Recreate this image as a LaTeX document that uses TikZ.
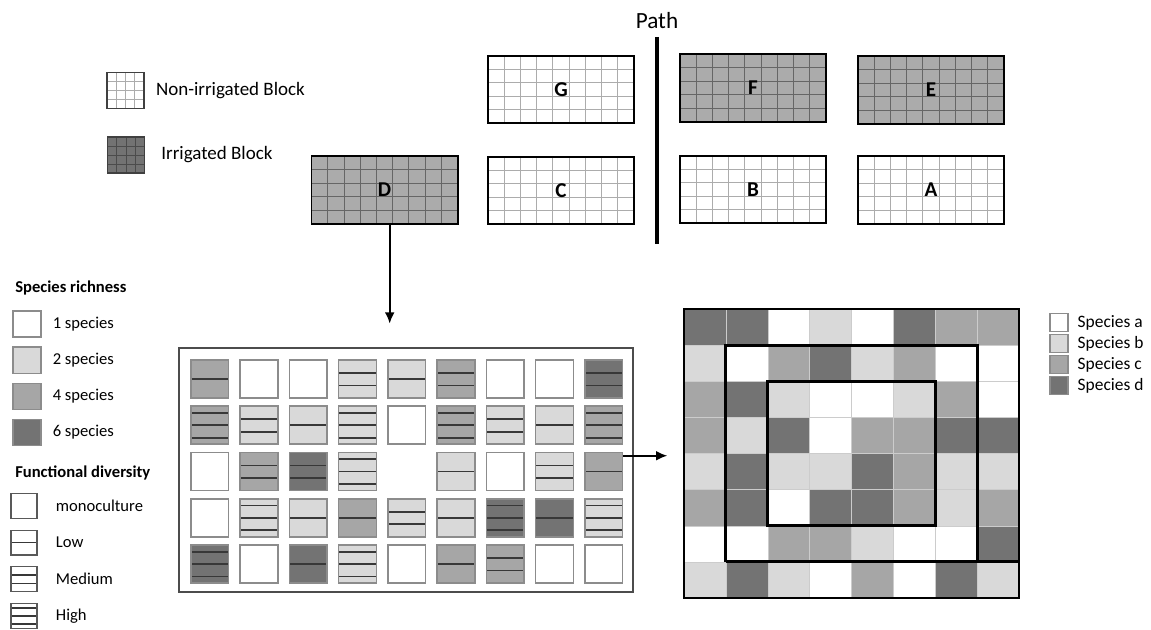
\documentclass[tikz,border=0pt]{standalone}
\usepackage{fontspec}
\setmainfont{Carlito}
\usetikzlibrary{calc}
\usetikzlibrary{positioning}
\usetikzlibrary{arrows.meta}

\definecolor{spa}{HTML}{FFFFFF}
\definecolor{spb}{HTML}{D9D9D9}
\definecolor{spc}{HTML}{A6A6A6}
\definecolor{spd}{HTML}{737373}
\colorlet{rich1}{spa}
\colorlet{rich2}{spb}
\colorlet{rich4}{spc}
\colorlet{rich6}{spd}
\definecolor{blockgray}{HTML}{ABABAB}
\definecolor{edgegray}{HTML}{8C8C8C}
\definecolor{fdgray}{HTML}{383838}

\tikzset{
  gridded/.style n args={3}{%
    path picture={
      \foreach \k in {1,...,#1}
        \draw[#3, line width=0.6pt]
          ($(path picture bounding box.south west)!\k/#1!(path picture bounding box.south east)$) --
          ($(path picture bounding box.north west)!\k/#1!(path picture bounding box.north east)$);
      \foreach \k in {1,...,#2}
        \draw[#3, line width=0.6pt]
          ($(path picture bounding box.south west)!\k/#2!(path picture bounding box.north west)$) --
          ($(path picture bounding box.south east)!\k/#2!(path picture bounding box.north east)$);
    }
  },
  blockNode/.style={draw, line width=1.4pt, minimum width=3.65cm, minimum height=1.68cm,
    inner sep=0pt, outer sep=0pt, font=\fontsize{15}{17}\selectfont\bfseries},
  dryBlock/.style={blockNode, fill=white, gridded={9}{5}{gray!65}},
  wetBlock/.style={blockNode, fill=blockgray, gridded={9}{5}{black!60}},
  keyBlock/.style={draw=black!75, line width=1pt, minimum width=0.92cm, minimum height=0.9cm, inner sep=0pt},
  keyText/.style={inner sep=0pt, font=\fontsize{13.5}{16}\selectfont},
  smallText/.style={inner sep=0pt, font=\fontsize{11.8}{14}\selectfont},
  titleText/.style={smallText, font=\fontsize{11.8}{14}\selectfont\bfseries},
  fdline/.style={draw=fdgray, line width=1.2pt},
  fdLines/.style={path picture={
      \foreach \q in {#1}
        \draw[fdline] ($(path picture bounding box.north west)!\q!(path picture bounding box.south west)$) --
          ($(path picture bounding box.north east)!\q!(path picture bounding box.south east)$);
    }},
  fdmono/.style={},
  fdlow/.style={fdLines={0.5}},
  fdmed/.style={fdLines={0.34,0.67}},
  fdhigh/.style={fdLines={0.18,0.5,0.83}},
  plotSq/.style={draw=edgegray, line width=1.1pt, minimum width=0.94cm, minimum height=0.95cm, inner sep=0pt},
  richSq/.style={draw=edgegray, line width=1pt, minimum width=0.7cm, minimum height=0.65cm, inner sep=0pt},
  fdSq/.style={draw=black!65, line width=0.9pt, fill=white, minimum width=0.65cm, minimum height=0.62cm, inner sep=0pt},
  spSq/.style={draw=edgegray, line width=0.9pt, minimum width=0.45cm, minimum height=0.45cm, inner sep=0pt},
  frame/.style={line width=2pt},
  arr/.style={-{Latex[length=8pt,width=7pt]}, line width=1.4pt},
}

\begin{document}
\begin{tikzpicture}[x=0.025cm,y=-0.025cm]
  \useasboundingbox (0,0) rectangle (1151,630);

  % block legend
  \node[keyBlock, fill=white, gridded={4}{4}{gray!65}] (keydry) at (125.5,90.5) {};
  \node[keyBlock, fill=spd, gridded={4}{4}{black!70}] (keywet) at (126,155) {};
  \node[keyText, right=0.28cm of keydry] {Non-irrigated Block};
  \node[keyText, right=0.4cm of keywet] {Irrigated Block};

  % experimental blocks
  \node[dryBlock] (G) at (561,89.5) {G};
  \node[dryBlock] (C) at (561,190.5) {C};
  \node[wetBlock] (D) at (384.5,190) {D};
  \node[wetBlock] (F) at (753,88) {F};
  \node[wetBlock] (E) at (931,90) {E};
  \node[dryBlock] (B) at (753,189.5) {B};
  \node[dryBlock] (A) at (931,190) {A};

  % path between the blocks
  \node[font=\fontsize{16.5}{18}\selectfont, inner sep=0pt] (pathlabel) at (657,21) {Path};
  \coordinate (pathtop) at (657,37);
  \coordinate (pathend) at (657,244);
  \draw[line width=2.2pt] (pathtop) -- (pathend);

  \draw[arr] ([xshift=0.13cm]D.south) -- ++(0,100);

  % plots of block D
  \node[draw=black!70, line width=1pt, minimum width=11.35cm, minimum height=6.1cm, inner sep=0pt] (plots) at (406,470) {};
  \foreach \i/\j/\sr/\fd in {
      1/1/rich4/fdlow, 1/2/rich1/fdmono, 1/3/rich1/fdmono, 1/4/rich2/fdmed, 1/5/rich2/fdlow,
      1/6/rich4/fdmed, 1/7/rich1/fdmono, 1/8/rich1/fdmono, 1/9/rich6/fdmed,
      2/1/rich4/fdhigh, 2/2/rich2/fdmed, 2/3/rich2/fdlow, 2/4/rich2/fdhigh, 2/5/rich1/fdmono,
      2/6/rich4/fdhigh, 2/7/rich2/fdmed, 2/8/rich2/fdlow, 2/9/rich4/fdhigh,
      3/1/rich1/fdmono, 3/2/rich4/fdmed, 3/3/rich6/fdmed, 3/4/rich2/fdhigh,
      3/6/rich2/fdlow, 3/7/rich1/fdmono, 3/8/rich2/fdmed, 3/9/rich4/fdlow,
      4/1/rich1/fdmono, 4/2/rich2/fdhigh, 4/3/rich2/fdlow, 4/4/rich4/fdlow, 4/5/rich2/fdmed,
      4/6/rich2/fdlow, 4/7/rich6/fdhigh, 4/8/rich6/fdlow, 4/9/rich2/fdhigh,
      5/1/rich6/fdhigh, 5/2/rich1/fdmono, 5/3/rich6/fdlow, 5/4/rich2/fdhigh, 5/5/rich1/fdmono,
      5/6/rich4/fdlow, 5/7/rich4/fdmed, 5/8/rich1/fdmono, 5/9/rich1/fdmono}
    \node[plotSq, fill=\sr, \fd] (p\i\j) at ({209.75+(\j-1)*49.25},{379+(\i-1)*46.25}) {};

  \draw[arr] ([yshift=-0.1cm]p39.north east) -- ++(44,0);

  % species mixture inside one plot
  \foreach \row [count=\i from 0] in {{d,d,a,b,a,d,c,c},{b,a,c,d,b,c,a,a},{c,d,b,a,a,b,c,a},
      {c,b,d,a,c,c,d,d},{b,d,b,b,d,c,b,b},{c,d,a,d,d,c,b,c},{a,a,c,c,b,a,a,d},{b,d,b,a,c,a,d,b}}
    \foreach \s [count=\j from 0] in \row
      \fill[fill=sp\s] (684+\j*41.875,309+\i*36.125) rectangle ++(41.875,36.125);
  \foreach \k in {1,...,7}
  {
    \draw[white!80!black, line width=0.3pt] (684+\k*41.875,309) -- (684+\k*41.875,598);
    \draw[white!80!black, line width=0.3pt] (684,309+\k*36.125) -- (1019,309+\k*36.125);
  }
  \node[draw, frame, minimum width=8.375cm, minimum height=7.225cm, inner sep=0pt] (field) at (851.5,453.5) {};
  \draw[frame] (725.875,561.875) -- (725.875,345.125) -- (977.125,345.125) -- (977.125,561.875);
  \draw[frame] (725.875,561.875) -- (field.east |- 725.875,561.875);
  \draw[frame] (767.75,381.25) rectangle (935.25,525.75);

  % species key
  \foreach \f/\t [count=\k from 0] in {spa/Species a, spb/Species b, spc/Species c, spd/Species d}
  {
    \node[spSq, fill=\f] (sp\k) at (1059,322.5+\k*21) {};
    \node[smallText, font=\fontsize{12.4}{14}\selectfont, right=0.22cm of sp\k] {\t};
  }

  % richness and functional diversity key
  \node[titleText, anchor=west] (richtitle) at (15,288) {Species richness};
  \foreach \f/\t [count=\k from 0] in {rich1/1 species, rich2/2 species, rich4/4 species, rich6/6 species}
  {
    \node[richSq, fill=\f] (rich\k) at (27,324+\k*36.2) {};
    \node[smallText, right=0.27cm of rich\k] {\t};
  }
  \node[titleText, anchor=west] (fdtitle) at (15,473) {Functional diversity};
  \foreach \fd/\t [count=\k from 0] in {fdmono/monoculture, fdlow/Low, fdmed/Medium, fdhigh/High}
  {
    \node[fdSq, \fd] (fd\k) at (24,506+\k*36.6) {};
    \node[smallText, right=0.45cm of fd\k] {\t};
  }
\end{tikzpicture}
\end{document}
